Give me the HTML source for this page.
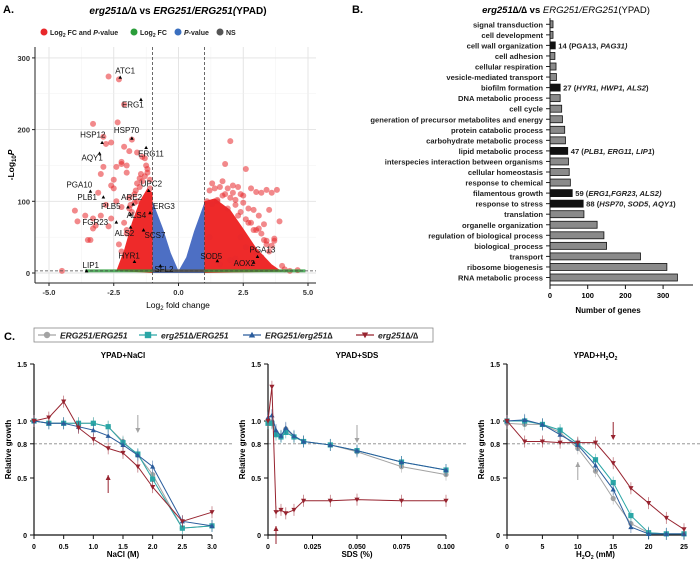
<!DOCTYPE html>
<html><head><meta charset="utf-8"><style>
html,body{margin:0;padding:0;background:#fff;}
svg{display:block;font-family:"Liberation Sans",Arial,sans-serif;}
</style></head><body>
<svg id="fig" width="700" height="569" viewBox="0 0 700 569">
<g id="pA"></g>
<g id="pB"></g>
<g id="pC"></g>
</svg>
<script>
// ===== Panel A data =====
const volcSigX = [-4.5,-4,-3.9,-3.5,-3.4,-3.3,-3.2,-3.1,-3,-2.9,-2.8,-2.7,-2.6,-2.5,-2.4,-2.3,-2.2,-2.1,-2,-1.9,-3.6,-3.3,-2.7,-2.5,-2.2,-2.0,-1.8,-1.6,-1.4,-1.3,-2.9,-2.6,-2.35,-2.1,-1.9,-1.7,-1.5,-2.4,-2.2,-3.0,-2.8,-2.6,-3.3,-1.2,-1.1,-1.6,-2.0,-2.3,2,1.8,2.6,2.4,2.2,2.8,3,3.2,3.4,3.6,3.8,3.9,3.5,3.1,2.9,2.7,2.5,2.3,2.1,1.9,1.7,1.5,1.3,1.1,3.3,3.7,4.1,4.3,4.6,4.0,3.5,2.2,2.6,3.0,3.4,3.7,2.0,1.6,1.2,2.4,2.8,3.2,-1.3,-1.5,-1.7,-1.9,-2.1,-1.2,-1.4,-1.6,-1.8,-2.0,-2.2,-1.1,-1.25,-1.45,-1.65,-1.85,1.2,1.4,1.6,1.8,2.0,2.2,2.4,2.6,2.8,3.0,3.2,3.4,1.3,1.7,2.1,2.5,2.9,3.3,3.6,1.5,1.9,2.3,2.7,3.1];
const volcSigY = [3,87,72,46,46,62,66,112,138,148,180,274,122,118,148,270,152,176,150,170,80,76,65,130,155,140,186,168,162,160,190,182,210,235,105,98,132,100,92,80,95,76,208,140,118,125,60,40,184,152,145,110,102,118,113,112,116,112,116,72,88,80,60,90,108,120,122,118,108,102,96,100,46,48,5,3,4,10,30,20,36,28,40,45,18,12,50,50,12,22,135,120,110,90,70,145,128,100,85,55,30,130,150,138,115,95,115,118,120,110,105,95,85,75,70,60,55,45,125,128,112,98,88,68,38,100,90,80,70,62];
const volcLblName = ["ATC1","ERG1","HSP70","HSP12","AQY1","ERG11","UPC2","PGA10","PLB1","ARE2","PLB5","ERG3","FGR23","ALS4","ALS2","SCS7","HYR1","LIP1","SFL2","SOD5","PGA13","AOX2"];
const volcLblX = [-2.25,-1.45,-1.8,-2.95,-3.05,-1.25,-1.15,-3.4,-2.9,-1.75,-1.95,-1.1,-2.4,-1.85,-1.85,-1.35,-1.7,-3.55,-0.7,1.5,3.05,2.9];
const volcLblY = [273,242,188,182,167,175,115,114,106,96,92,84,71,82,64,60,16,3,10,17,23,15];
const volcXTicks = [-5,-2.5,0,2.5,5];
const volcYTicks = [0,100,200,300];
// ===== Panel B data =====
const goTerms = ["signal transduction","cell development","cell wall organization","cell adhesion","cellular respiration","vesicle-mediated transport","biofilm formation","DNA metabolic process","cell cycle","generation of precursor metabolites and energy","protein catabolic process","carbohydrate metabolic process","lipid metabolic process","interspecies interaction between organisms","cellular homeostasis","response to chemical","filamentous growth","response to stress","translation","organelle organization","regulation of biological process","biological_process","transport","ribosome biogenesis","RNA metabolic process"];
const goCounts = [8,8,14,13,16,17,27,27,31,33,39,41,47,49,51,54,59,88,90,125,143,150,240,310,338];
const goHighlight = [0,0,1,0,0,0,1,0,0,0,0,0,1,0,0,0,1,1,0,0,0,0,0,0,0];
const goNotes = ["","",' (PGA13, <tspan font-style="italic">PAG31)</tspan>',"","","",' (<tspan font-style="italic">HYR1, HWP1, ALS2</tspan>)',"","","","","",' (<tspan font-style="italic">PLB1, ERG11, LIP1</tspan>)',"","","",' (<tspan font-style="italic">ERG1,FGR23, ALS2)</tspan>',' (<tspan font-style="italic">HSP70</tspan>, <tspan font-style="italic">SOD5</tspan>, <tspan font-style="italic">AQY1</tspan>)',"","","","","","",""];
const goXTicks = [0,100,200,300];
// ===== Panel C data =====
const naclX = [0,0.25,0.5,0.75,1,1.25,1.5,1.75,2,2.5,3];
const naclGrey = [1,0.98,0.98,0.98,0.98,0.95,0.82,0.7,0.53,0.06,0.08];
const naclTeal = [1,0.98,0.98,0.98,0.98,0.95,0.81,0.71,0.49,0.06,0.08];
const naclBlue = [1,0.98,0.98,0.95,0.92,0.87,0.79,0.7,0.6,0.12,0.08];
const naclRed = [1,1.03,1.17,0.94,0.84,0.76,0.72,0.6,0.42,0.12,0.2];
const sdsX = [0,0.0022,0.0045,0.0073,0.01,0.0146,0.02,0.035,0.05,0.075,0.1];
const sdsGrey = [1,0.99,0.9,0.87,0.93,0.86,0.82,0.79,0.73,0.6,0.53];
const sdsTeal = [0.98,0.98,0.88,0.86,0.9,0.86,0.82,0.79,0.74,0.64,0.57];
const sdsBlue = [1.03,1.05,0.92,0.87,0.94,0.87,0.82,0.79,0.74,0.64,0.57];
const sdsRed = [1,1.3,0.2,0.22,0.19,0.22,0.3,0.3,0.31,0.3,0.3];
const h2o2X = [0,2.5,5,7.5,10,12.5,15,17.5,20,22.5,25];
const h2o2Grey = [0.98,0.97,0.97,0.9,0.76,0.56,0.32,0.1,0.02,0.01,0.01];
const h2o2Teal = [1,1,0.97,0.92,0.8,0.66,0.46,0.17,0.02,0.01,0.01];
const h2o2Blue = [1,1.01,0.97,0.88,0.79,0.61,0.4,0.07,0.01,0.01,0.01];
const h2o2Red = [1,0.82,0.82,0.81,0.81,0.81,0.63,0.41,0.28,0.15,0.05];
const growthYTicks = [0,0.5,0.8,1.0,1.5];

const NS="http://www.w3.org/2000/svg";
function mk(parent,tag,attrs,text){const e=document.createElementNS(NS,tag);for(const k in attrs)e.setAttribute(k,attrs[k]);if(text!==undefined)e.innerHTML=text;parent.appendChild(e);return e;}

// ===== Panel A =====
const A=document.getElementById('pA');
const ax=v=>178.5+v*25.9, ay=v=>273-v*0.717;
mk(A,'text',{x:3,y:13,'font-size':11,'font-weight':'bold'},'A.');
let t=mk(A,'text',{x:178,y:14,'font-size':10,'font-weight':'bold','text-anchor':'middle'},'<tspan font-style="italic">erg251∆/∆</tspan> vs <tspan font-style="italic">ERG251/ERG251(</tspan>YPAD)');

const legA=[["#e8282b",40,"Log<tspan font-size='5' dy='2'>2</tspan><tspan dy='-2'> FC and </tspan><tspan font-style='italic'>P</tspan>-value"],["#2a9d3a",130,"Log<tspan font-size='5' dy='2'>2</tspan><tspan dy='-2'> FC</tspan>"],["#3a6fbf",174,"<tspan font-style='italic'>P</tspan>-value"],["#555",216,"NS"]];
legA.forEach(l=>{const g=mk(A,'g',{});mk(g,'circle',{cx:l[1]+4,cy:32,r:3.5,fill:l[0]});mk(g,'text',{x:l[1]+10,y:35,'font-size':7,'font-weight':'bold',fill:'#222'},l[2]);});
mk(A,'rect',{x:35,y:47,width:281,height:236,fill:'#fff'});
for(let v=-5;v<=5;v+=1.25){mk(A,'line',{x1:ax(v),x2:ax(v),y1:47,y2:283,stroke:Number.isInteger(v/2.5)?'#e2e2e2':'#f0f0f0','stroke-width':Number.isInteger(v/2.5)?0.9:0.5});}
for(let v=-50;v<=350;v+=50){if(ay(v)<47||ay(v)>283)continue;mk(A,'line',{x1:35,x2:316,y1:ay(v),y2:ay(v),stroke:v%100===0?'#e2e2e2':'#f0f0f0','stroke-width':v%100===0?0.9:0.5});}
mk(A,'polygon',{points:[[-1,100],[-0.6,62],[-0.3,28],[0,3],[0.3,22],[0.6,58],[1,98],[1,0],[-1,0]].map(p=>ax(p[0])+','+ay(p[1])).join(' '),fill:'#4d6fc4'});
mk(A,'polygon',{points:[[-1,0],[-1,112],[-1.2,118],[-1.5,100],[-1.8,70],[-2.1,32],[-2.4,3]].map(p=>ax(p[0])+','+ay(p[1])).join(' '),fill:'#ee2a2a'});
mk(A,'polygon',{points:[[1,0],[1,100],[1.4,104],[2,88],[2.5,62],[3,35],[3.6,12],[4,2]].map(p=>ax(p[0])+','+ay(p[1])).join(' '),fill:'#ee2a2a'});
volcSigX.forEach((x,i)=>{const c=mk(A,'circle',{cx:ax(x),cy:ay(volcSigY[i]),r:3,fill:'#e8282b','fill-opacity':0.55});});
mk(A,'rect',{x:ax(-3.6),y:ay(3)-1.5,width:ax(-1)-ax(-3.6),height:3,fill:'#2a9d3a','fill-opacity':0.8});
mk(A,'rect',{x:ax(1),y:ay(3)-1.5,width:ax(4.9)-ax(1),height:3,fill:'#2a9d3a','fill-opacity':0.8});
mk(A,'rect',{x:ax(-1),y:ay(3)-1.5,width:ax(1)-ax(-1),height:3,fill:'#555'});
mk(A,'line',{x1:ax(-1),x2:ax(-1),y1:47,y2:283,stroke:'#444','stroke-dasharray':'3,2','stroke-width':0.8});
mk(A,'line',{x1:ax(1),x2:ax(1),y1:47,y2:283,stroke:'#444','stroke-dasharray':'3,2','stroke-width':0.8});
mk(A,'line',{x1:35,x2:316,y1:ay(3),y2:ay(3),stroke:'#444','stroke-dasharray':'3,2','stroke-width':0.8});
const lblOff={ATC1:[-5,-4],ERG1:[-19,8],HSP70:[-18,-5],HSP12:[-22,-5],AQY1:[-18,7],ERG11:[-8,9],UPC2:[-8,-4],PGA10:[-24,-4],PLB1:[-26,3],ARE2:[-12,-4],PLB5:[-27,2],ERG3:[3,-4],FGR23:[-34,3],ALS4:[-4,4],ALS2:[-16,9],SCS7:[1,8],HYR1:[-16,-3],LIP1:[-4,-3],SFL2:[-6,6],SOD5:[-17,-2],PGA13:[-8,-4],AOX2:[-20,4]};
volcLblName.forEach((n,i)=>{const px=ax(volcLblX[i]),py=ay(volcLblY[i]);mk(A,'polygon',{points:`${px-1.8},${py+1.5} ${px+1.8},${py+1.5} ${px},${py-1.8}`,fill:'#000'});const o=lblOff[n];const tt=mk(A,'text',{x:px+o[0],y:py+o[1],'font-size':8,fill:'#111'},n);});
mk(A,'line',{x1:35,x2:35,y1:47,y2:283,stroke:'#222','stroke-width':1});
mk(A,'line',{x1:35,x2:316,y1:283,y2:283,stroke:'#222','stroke-width':1});
volcXTicks.forEach(v=>{mk(A,'line',{x1:ax(v),x2:ax(v),y1:283,y2:286,stroke:'#222'});mk(A,'text',{x:ax(v),y:295,'font-size':7.5,'font-weight':'bold','text-anchor':'middle',fill:'#333'},v.toFixed(1));});
volcYTicks.forEach(v=>{mk(A,'line',{x1:32,x2:35,y1:ay(v),y2:ay(v),stroke:'#222'});mk(A,'text',{x:30,y:ay(v)+3,'font-size':7.5,'font-weight':'bold','text-anchor':'end',fill:'#333'},v);});
mk(A,'text',{x:178,y:308,'font-size':8.5,'text-anchor':'middle'},'Log<tspan font-size="6" dy="2">2</tspan><tspan dy="-2"> fold change</tspan>');
mk(A,'text',{x:0,y:0,'font-size':8.5,'font-weight':'bold','text-anchor':'middle',transform:'translate(14,165) rotate(-90)'},'-Log<tspan font-size="6" dy="2">10</tspan><tspan dy="-2" font-style="italic">P</tspan>');

// ===== Panel B =====
const B=document.getElementById('pB');
const bx=v=>550+v*0.377, by=i=>24.3+i*10.55;
mk(B,'text',{x:352,y:13,'font-size':11,'font-weight':'bold'},'B.');
mk(B,'text',{x:566,y:13,'font-size':9.5,'text-anchor':'middle'},'<tspan font-style="italic" font-weight="bold">erg251∆/∆</tspan><tspan font-weight="bold"> vs </tspan><tspan font-style="italic">ERG251/ERG251</tspan>(YPAD)');
goTerms.forEach((term,i)=>{const y=by(i);
 const l=mk(B,'text',{x:543,y:y+3,'font-size':7.6,'font-weight':'bold','text-anchor':'end',fill:'#222'},term);
 mk(B,'line',{x1:546,x2:550,y1:y,y2:y,stroke:'#222'});
 const r=mk(B,'rect',{x:550,y:y-3.5,width:bx(goCounts[i])-550,height:7,fill:goHighlight[i]?'#111':'#8a8a8a',stroke:'#111','stroke-width':0.8});
 if(goNotes[i])mk(B,'text',{x:bx(goCounts[i])+3,y:y+3,'font-size':7.6,'font-weight':'bold',fill:'#222'},goCounts[i]+goNotes[i]);
});
mk(B,'line',{x1:550,x2:550,y1:18,y2:285,stroke:'#111','stroke-width':1});
mk(B,'line',{x1:550,x2:693,y1:285,y2:285,stroke:'#111','stroke-width':1});
goXTicks.forEach(v=>{mk(B,'line',{x1:bx(v),x2:bx(v),y1:285,y2:289,stroke:'#111'});mk(B,'text',{x:bx(v),y:298,'font-size':7.5,'font-weight':'bold','text-anchor':'middle'},v);});
mk(B,'text',{x:608,y:313,'font-size':8,'font-weight':'bold','text-anchor':'middle'},'Number of genes');

// ===== Panel C =====
const C=document.getElementById('pC');
const colors={grey:'#a3a3a3',teal:'#2aa6a6',blue:'#2a5c9c',red:'#97232f'};
mk(C,'text',{x:4,y:340,'font-size':11,'font-weight':'bold'},'C.');
mk(C,'rect',{x:34,y:328,width:399,height:14,fill:'#fff',stroke:'#888','stroke-width':0.8});
function marker(g,kind,x,y,col,s){
 if(kind==='grey')mk(g,'circle',{cx:x,cy:y,r:s,fill:col});
 else if(kind==='teal')mk(g,'rect',{x:x-s,y:y-s,width:2*s,height:2*s,fill:col});
 else if(kind==='blue')mk(g,'polygon',{points:`${x-s},${y+s*0.8} ${x+s},${y+s*0.8} ${x},${y-s}`,fill:col});
 else mk(g,'polygon',{points:`${x-s},${y-s*0.8} ${x+s},${y-s*0.8} ${x},${y+s}`,fill:col});
}
[['grey',38,'ERG251/ERG251'],['teal',139,'erg251∆/ERG251'],['blue',243,'ERG251/erg251∆'],['red',356,'erg251∆/∆']].forEach(l=>{const g=mk(C,'g',{});mk(g,'line',{x1:l[1],x2:l[1]+18,y1:335,y2:335,stroke:colors[l[0]],'stroke-width':1.2});marker(g,l[0],l[1]+9,335,colors[l[0]],3.2);mk(g,'text',{x:l[1]+22,y:338.5,'font-size':8.5,'font-weight':'bold','font-style':'italic',fill:'#222'},l[2]);});
const gy=v=>535-v*114;
function panel(x0,x1,xmax,xs,series,title,xticks,xfmt,xtitle,arrows,name){
 const g=mk(C,'g',{});
 const px=v=>x0+v/xmax*(x1-x0);
 mk(g,'text',{x:(x0+x1)/2,y:358,'font-size':8,'font-weight':'bold','text-anchor':'middle'},title);
 mk(g,'line',{x1:x0,x2:x1+22,y1:gy(0.8),y2:gy(0.8),stroke:'#888','stroke-dasharray':'3,2','stroke-width':0.8});
 mk(g,'line',{x1:x0,x2:x0,y1:gy(1.5),y2:gy(0),stroke:'#111','stroke-width':1.2});
 mk(g,'line',{x1:x0,x2:x1,y1:gy(0),y2:gy(0),stroke:'#111','stroke-width':1.2});
 growthYTicks.forEach(v=>{mk(g,'line',{x1:x0-4,x2:x0,y1:gy(v),y2:gy(v),stroke:'#111'});mk(g,'text',{x:x0-7,y:gy(v)+3,'font-size':7,'font-weight':'bold','text-anchor':'end'},v===0?'0':v.toFixed(1));});
 xticks.forEach(v=>{mk(g,'line',{x1:px(v),x2:px(v),y1:gy(0),y2:gy(0)+4,stroke:'#111'});mk(g,'text',{x:px(v),y:gy(0)+14,'font-size':7,'font-weight':'bold','text-anchor':'middle'},xfmt(v));});
 mk(g,'text',{x:(x0+x1)/2,y:557,'font-size':8,'font-weight':'bold','text-anchor':'middle'},xtitle);
 mk(g,'text',{x:0,y:0,'font-size':8,'font-weight':'bold','text-anchor':'middle',transform:`translate(${x0-23},${gy(0.75)}) rotate(-90)`},'Relative growth');
 series.forEach(s=>{const pts=xs.map((x,i)=>px(x)+','+gy(s[1][i])).join(' ');const pl=mk(g,'polyline',{points:pts,fill:'none',stroke:colors[s[0]],'stroke-width':1});
  xs.forEach((x,i)=>{mk(g,'line',{x1:px(x),x2:px(x),y1:gy(s[1][i])-6,y2:gy(s[1][i])+6,stroke:colors[s[0]],'stroke-width':0.7,'stroke-opacity':0.7});marker(g,s[0],px(x),gy(s[1][i]),colors[s[0]],2.6);});});
 arrows.forEach(a=>{const ax2=px(a[0]);const c=colors[a[1]];if(a[2]==='down'){mk(g,'line',{x1:ax2,x2:ax2,y1:a[3],y2:a[3]+14,stroke:c});mk(g,'polygon',{points:`${ax2-2.5},${a[3]+13} ${ax2+2.5},${a[3]+13} ${ax2},${a[3]+18}`,fill:c});}else{mk(g,'line',{x1:ax2,x2:ax2,y1:a[3],y2:a[3]+18,stroke:c});mk(g,'polygon',{points:`${ax2-2.5},${a[3]+5} ${ax2+2.5},${a[3]+5} ${ax2},${a[3]}`,fill:c});}});
}
panel(34,212,3,naclX,[['grey',naclGrey],['teal',naclTeal],['blue',naclBlue],['red',naclRed]],'YPAD+NaCl',[0,0.5,1,1.5,2,2.5,3],v=>v===0?'0':v.toFixed(1),'NaCl (M)',[[1.75,'grey','down',415],[1.25,'red','up',475]],'nacl-chart');
panel(268,446,0.1,sdsX,[['grey',sdsGrey],['teal',sdsTeal],['blue',sdsBlue],['red',sdsRed]],'YPAD+SDS',[0,0.025,0.05,0.075,0.1],v=>v===0?'0':v.toFixed(3),'SDS (%)',[[0.05,'grey','down',425],[0.0045,'red','up',526]],'sds-chart');
panel(507,684,25,h2o2X,[['grey',h2o2Grey],['teal',h2o2Teal],['blue',h2o2Blue],['red',h2o2Red]],'YPAD+H<tspan font-size="5" dy="2">2</tspan><tspan dy="-2">O</tspan><tspan font-size="5" dy="2">2</tspan>',[0,5,10,15,20,25],v=>String(v),'H<tspan font-size="5" dy="2">2</tspan><tspan dy="-2">O</tspan><tspan font-size="5" dy="2">2</tspan><tspan dy="-2"> (mM)</tspan>',[[15,'red','down',422],[10,'grey','up',462]],'h2o2-chart');
</script>
</body></html>
